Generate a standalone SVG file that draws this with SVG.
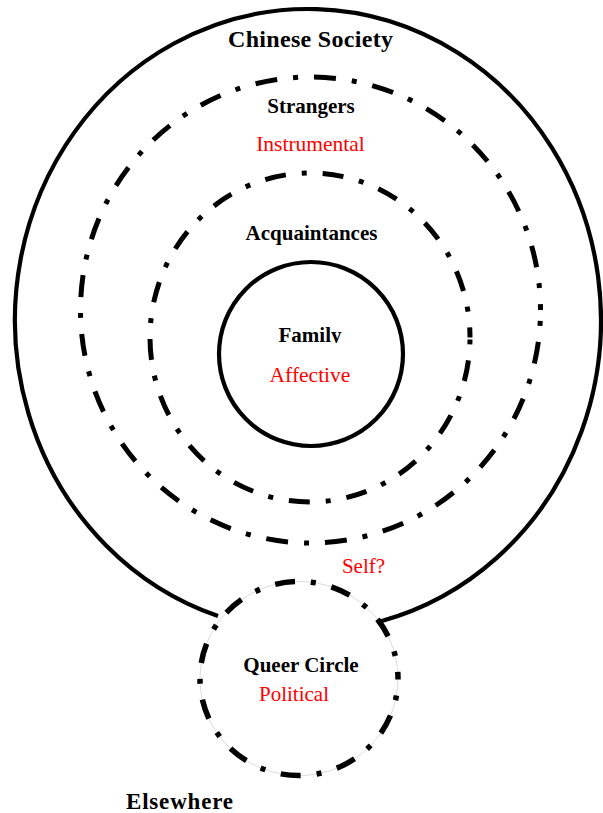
<svg xmlns="http://www.w3.org/2000/svg" width="603" height="813" viewBox="0 0 603 813">
<style>
.solid{fill:none;stroke:#000;stroke-width:4.2}
.dd{fill:none;stroke:#000;stroke-width:5;stroke-linecap:butt;stroke-dasharray:22 16 5 16}
.faint{fill:none;stroke:#dcdcdc;stroke-width:1}
.lbl{font-family:"Liberation Serif","Times New Roman",serif;font-weight:bold;font-size:21px;fill:#000;text-anchor:middle}
.red{font-family:"Liberation Serif","Times New Roman",serif;font-size:21.5px;fill:#ff0000;text-anchor:middle}
</style>
<defs>
<clipPath id="famclip"><rect x="250" y="300" width="120" height="43"/></clipPath>
</defs>
<rect width="603" height="813" fill="#fff"/>
<g id="chinese-society">
<path class="solid" d="M 218 616 A 293 311 0 1 1 381 621.2"/>
<text class="lbl" x="310.5" y="47" style="font-size:24px" textLength="165" lengthAdjust="spacing">Chinese Society</text>
</g>
<g id="strangers">
<ellipse class="dd" cx="310.5" cy="310" rx="230" ry="233" style="stroke-dashoffset:27"/>
<text class="lbl" x="311" y="113.3">Strangers</text>
<text class="red" x="310.5" y="150.7">Instrumental</text>
</g>
<g id="acquaintances">
<ellipse class="dd" cx="310" cy="337.5" rx="160" ry="164.5" style="stroke-dasharray:21 16 5 16;stroke-dashoffset:35"/>
<text class="lbl" x="311.5" y="240">Acquaintances</text>
</g>
<g id="family">
<circle class="solid" cx="311" cy="354" r="92"/>
<text class="lbl" x="310" y="341.7" clip-path="url(#famclip)">Family</text>
<text class="red" x="310" y="381.7">Affective</text>
</g>
<g id="self">
<text class="red" x="363.5" y="572.7" style="font-size:21px">Self?</text>
</g>
<g id="queer-circle">
<ellipse class="faint" cx="299" cy="678.5" rx="99" ry="97"/>
<ellipse class="dd" cx="299" cy="678.5" rx="99" ry="97" style="stroke-width:5.5;stroke-dasharray:20 16 5 16;stroke-dashoffset:19"/>
<text class="lbl" x="301" y="671.7">Queer Circle</text>
<text class="red" x="294" y="700.7" style="font-size:21px">Political</text>
</g>
<g id="elsewhere">
<text class="lbl" x="179.5" y="808.5" style="font-size:23px" textLength="107" lengthAdjust="spacing">Elsewhere</text>
</g>
<g id="connectors"/>
</svg>
